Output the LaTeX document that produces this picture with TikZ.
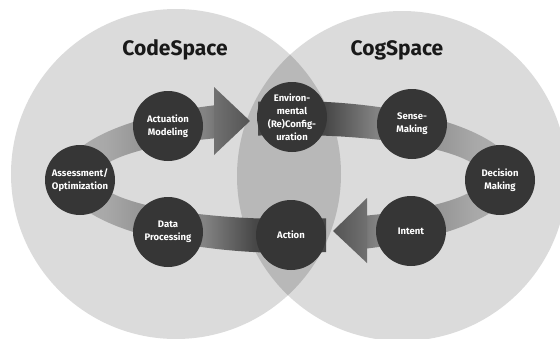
\documentclass[tikz,border=0pt]{standalone}
\usepackage{fontspec}
\setmainfont{Fira Sans}
\usepackage{xcolor}

\definecolor{spacefill}{gray}{0.86}
\definecolor{overlapfill}{gray}{0.72}
\definecolor{stagefill}{gray}{0.21}
\definecolor{headlight}{gray}{0.44}
\definecolor{headdark}{gray}{0.33}
\definecolor{bandA}{gray}{0.69}
\definecolor{bandB}{gray}{0.66}
\definecolor{bandC}{gray}{0.60}
\definecolor{bandD}{gray}{0.51}
\definecolor{bandE}{gray}{0.28}
\definecolor{bandF}{gray}{0.25}
\pgfdeclarehorizontalshading{bandshade}{100bp}{color(0bp)=(bandA); color(25bp)=(bandA); color(29.6bp)=(bandB); color(32.9bp)=(bandC); color(40.6bp)=(bandD); color(46.1bp)=(bandE); color(50bp)=(bandF); color(53.9bp)=(bandE); color(59.4bp)=(bandD); color(67.1bp)=(bandC); color(70.4bp)=(bandB); color(75bp)=(bandA); color(100bp)=(bandA)}

\begin{document}
\begin{tikzpicture}[x=1pt,y=-1pt,
  stage/.style={circle,fill=stagefill,text=white,minimum size=70pt,inner sep=0pt,align=center,font=\bfseries\fontsize{9.5}{13}\selectfont},
  title/.style={font=\bfseries\fontsize{21}{24}\selectfont,text=black!90}]
\useasboundingbox (0,0) rectangle (560,338);
\fill[spacefill] (176,174) circle[radius=165pt];
\fill[spacefill] (402,176) circle[radius=165pt];
\begin{scope}
  \clip (176,174) circle[radius=165pt];
  \fill[overlapfill] (402,176) circle[radius=165pt];
\end{scope}
\node[title] (code) at (175,50) {CodeSpace};
\node[title] (cog) at (397,50) {CogSpace};
\begin{scope}[even odd rule]
  \clip (0,0) rectangle (560,338) (214,60) rectangle (258,175) (326,180) rectangle (367,300);
  \shade[shading=bandshade] (290,177) ellipse[x radius=227pt,y radius=76pt]
    (290,177) ellipse[x radius=193pt,y radius=42pt];
\end{scope}
\coordinate (tipA) at (250,121);
\coordinate (tipB) at (333,231);
\shade[left color=headlight,right color=headdark] (214,87) -- (tipA) -- (214,155) -- cycle;
\shade[left color=headdark,right color=headlight] (367,198) -- (tipB) -- (367,263) -- cycle;
\node[stage] (assess) at (80,180) {Assessment/\\Optimization};
\node[stage] (actuate) at (168,126) {Actuation\\Modeling};
\node[stage] (env) at (292,117) {Environ-\\mental\\(Re)Config-\\uration};
\node[stage] (sense) at (412,124) {Sense-\\Making};
\node[stage] (decide) at (500,180) {Decision\\Making};
\node[stage] (intent) at (411,231) {Intent};
\node[stage] (action) at (291,235) {Action};
\node[stage] (data) at (168,232) {Data\\Processing};
\end{tikzpicture}
\end{document}
